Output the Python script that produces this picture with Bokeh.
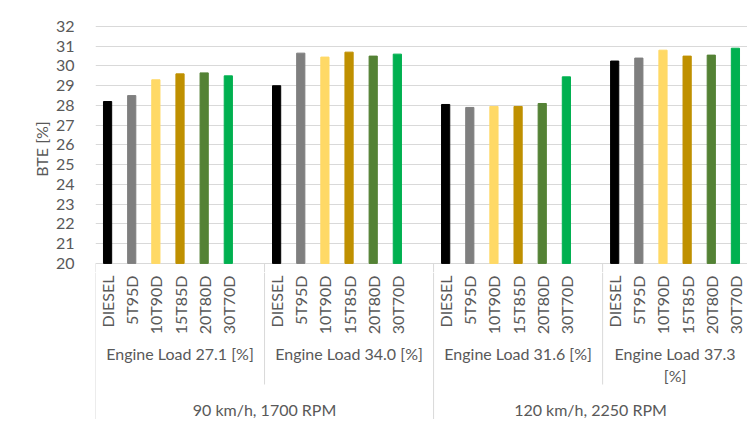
import math
from bokeh.plotting import figure
from bokeh.models import Range1d, FixedTicker, ColumnDataSource
from bokeh.layouts import column
from bokeh.core.properties import value
from bokeh.embed import file_html
from bokeh.resources import INLINE

# ---------------- data ----------------
fuels = ["DIESEL", "5T95D", "10T90D", "15T85D", "20T80D", "30T70D"]
fuel_colors = ["#000000", "#7f7f7f", "#ffd966", "#bf9000", "#548235", "#00b050"]
loads = ["Engine Load 27.1 [%]", "Engine Load 34.0 [%]", "Engine Load 31.6 [%]", "Engine Load 37.3\n[%]"]
speeds = ["90 km/h, 1700 RPM", "120 km/h, 2250 RPM"]
bte_load_27_1 = [28.2, 28.5, 29.3, 29.6, 29.65, 29.5]
bte_load_34_0 = [29.0, 30.65, 30.45, 30.7, 30.5, 30.6]
bte_load_31_6 = [28.05, 27.9, 27.95, 27.95, 28.1, 29.45]
bte_load_37_3 = [30.25, 30.4, 30.8, 30.5, 30.55, 30.9]
y_ticks = [20, 21, 22, 23, 24, 25, 26, 27, 28, 29, 30, 31, 32]

groups = [bte_load_27_1, bte_load_34_0, bte_load_31_6, bte_load_37_3]
SLOTS_PER_GROUP = 7          # 6 bars + 1 empty slot
N_SLOTS = 27

FONT = "Lato"
TXT = "#595959"
GRID = "#d9d9d9"
FS = "16px"

# build bar table
xs, tops, cols, labs = [], [], [], []
for g, vals in enumerate(groups):
    for j, v in enumerate(vals):
        xs.append(g * SLOTS_PER_GROUP + j + 0.5)
        tops.append(v)
        cols.append(fuel_colors[j])
        labs.append(fuels[j])
src = ColumnDataSource(dict(x=xs, top=tops, color=cols, label=labs))

W = 747
LEFT = 95
xr = Range1d(0, N_SLOTS)
Y0 = 19.54

# separators between category groups
sep_x = [0, 7, 14, 21, 27]

# ---------------- top figure (bars) ----------------
p = figure(width=W, height=272, x_range=xr, y_range=Range1d(Y0, 32.05),
           output_backend="svg", toolbar_location=None, x_axis_location=None,
           min_border_left=LEFT, min_border_right=0, min_border_top=25, min_border_bottom=0)
p.outline_line_color = None
p.xgrid.visible = False
p.ygrid.grid_line_color = GRID
p.ygrid.grid_line_width = 1
p.yaxis.ticker = FixedTicker(ticks=y_ticks)
p.yaxis.axis_line_color = None
p.yaxis.major_tick_line_color = None
p.yaxis.minor_tick_line_color = None
p.yaxis.major_label_standoff = 15
p.yaxis.major_label_text_font = FONT
p.yaxis.major_label_text_font_size = FS
p.yaxis.major_label_text_color = TXT
p.yaxis.axis_label = "BTE [%]"
p.yaxis.axis_label_text_font = FONT
p.yaxis.axis_label_text_font_size = FS
p.yaxis.axis_label_text_font_style = "normal"
p.yaxis.axis_label_text_color = TXT
p.yaxis.axis_label_standoff = 2

p.vbar(x="x", top="top", bottom=20, width=0.34, color="color", source=src)
p.segment(x0=sep_x, y0=[20] * 5, x1=sep_x, y1=[Y0] * 5, line_color=GRID, line_width=1)

# ---------------- bottom figure (multi-level category labels) ----------------
H2 = 147
b = figure(width=W, height=H2, x_range=xr, y_range=Range1d(0, H2),
           output_backend="svg", toolbar_location=None,
           x_axis_location=None, y_axis_location=None,
           min_border_left=LEFT, min_border_right=0, min_border_top=0, min_border_bottom=0)
b.outline_line_color = None
b.grid.visible = False

def yoff(d):
    return H2 - d

# category (fuel) labels, rotated
b.text(x=xs, y=[yoff(3)] * len(xs), text=labs, angle=math.pi / 2,
       text_align="right", text_baseline="middle",
       text_font=value(FONT), text_font_size=FS, text_color=TXT)

# engine load labels
load_x = [3.5, 10.5, 17.5, 24.0]
b.text(x=load_x, y=[yoff(71)] * 4, text=loads, text_align="center", text_baseline="top",
       text_font=value(FONT), text_font_size=FS, text_color=TXT, text_line_height=1.2)

# speed labels
b.text(x=[7.0, 20.5], y=[yoff(137)] * 2, text=speeds, text_align="center", text_baseline="middle",
       text_font=value(FONT), text_font_size=FS, text_color=TXT)

# separators
sep_end = [0, yoff(112), 0, yoff(112), 0]
b.segment(x0=sep_x, y0=[H2] * 5, x1=sep_x, y1=sep_end, line_color=GRID, line_width=1)

layout = column(p, b, spacing=0)
open("out.html", "w").write(file_html(layout, INLINE))
